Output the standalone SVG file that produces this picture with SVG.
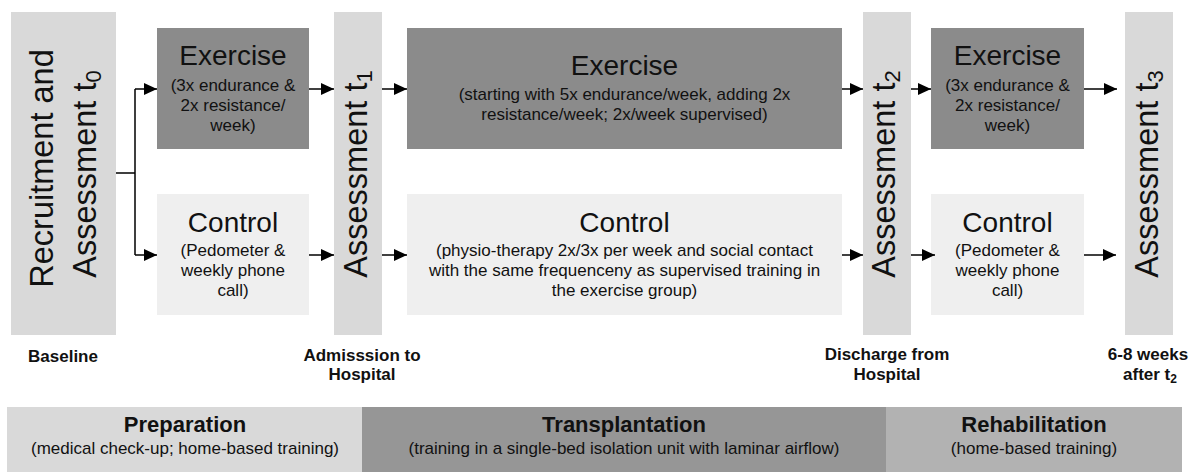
<svg xmlns="http://www.w3.org/2000/svg" width="1195" height="472" viewBox="0 0 1195 472">
<defs>
<style>
.bar{fill:#d9d9d9}
.ex{fill:#8b8b8b}
.ct{fill:#efefef}
text{font-family:'Liberation Sans',Arial,sans-serif;fill:#111}
.title{font-size:28px;text-anchor:middle}
.sub{font-size:17px;text-anchor:middle}
.rot{font-size:32.5px;text-anchor:middle}
.lbl{font-size:17px;font-weight:bold;text-anchor:middle}
.ph{font-size:22px;font-weight:bold;text-anchor:middle}
.phs{font-size:17px;text-anchor:middle}
.conn{stroke:#000;stroke-width:1.5;fill:none}
.arr{stroke:#000;stroke-width:1.5;fill:none;marker-end:url(#ah)}
</style>
<marker id="ah" markerUnits="userSpaceOnUse" markerWidth="14" markerHeight="12" refX="13" refY="6" orient="auto">
<path d="M0,0 L13,6 L0,12 z" fill="#000"/>
</marker>
</defs>
<rect width="1195" height="472" fill="#fff"/>

<g id="recruitment">
<rect class="bar" x="11" y="12" width="105" height="323"/>
<text class="rot" transform="translate(53,168.5) rotate(-90)">Recruitment and</text>
<text class="rot" transform="translate(96,174) rotate(-90)">Assessment t<tspan font-size="22" dy="5">0</tspan></text>
</g>

<g id="exercise1">
<rect class="ex" x="157" y="28" width="152" height="121"/>
<text class="title" x="233" y="65">Exercise</text>
<text class="sub" x="233" y="91">(3x endurance &amp;</text>
<text class="sub" x="233" y="111">2x resistance/</text>
<text class="sub" x="233" y="131">week)</text>
</g>

<g id="control1">
<rect class="ct" x="157" y="194" width="152" height="121"/>
<text class="title" x="233" y="232">Control</text>
<text class="sub" x="233" y="256">(Pedometer &amp;</text>
<text class="sub" x="233" y="276">weekly phone</text>
<text class="sub" x="233" y="296">call)</text>
</g>

<g id="assessment1">
<rect class="bar" x="334" y="12" width="48" height="323"/>
<text class="rot" transform="translate(367,174) rotate(-90)">Assessment t<tspan font-size="22" dy="5">1</tspan></text>
</g>

<g id="exercise2">
<rect class="ex" x="407" y="28" width="435" height="121"/>
<text class="title" x="624.5" y="75">Exercise</text>
<text class="sub" x="624.5" y="100">(starting with 5x endurance/week, adding 2x</text>
<text class="sub" x="624.5" y="120">resistance/week; 2x/week supervised)</text>
</g>

<g id="control2">
<rect class="ct" x="407" y="194" width="435" height="121"/>
<text class="title" x="624.5" y="232">Control</text>
<text class="sub" x="624.5" y="256">(physio-therapy 2x/3x per week and social contact</text>
<text class="sub" x="624.5" y="276">with the same frequenceny as supervised training in</text>
<text class="sub" x="624.5" y="296">the exercise group)</text>
</g>

<g id="assessment2">
<rect class="bar" x="863" y="12" width="48" height="323"/>
<text class="rot" transform="translate(895,174) rotate(-90)">Assessment t<tspan font-size="22" dy="5">2</tspan></text>
</g>

<g id="exercise3">
<rect class="ex" x="931" y="28" width="153" height="121"/>
<text class="title" x="1007.5" y="65">Exercise</text>
<text class="sub" x="1007.5" y="91">(3x endurance &amp;</text>
<text class="sub" x="1007.5" y="111">2x resistance/</text>
<text class="sub" x="1007.5" y="131">week)</text>
</g>

<g id="control3">
<rect class="ct" x="931" y="194" width="153" height="121"/>
<text class="title" x="1007.5" y="232">Control</text>
<text class="sub" x="1007.5" y="256">(Pedometer &amp;</text>
<text class="sub" x="1007.5" y="276">weekly phone</text>
<text class="sub" x="1007.5" y="296">call)</text>
</g>

<g id="assessment3">
<rect class="bar" x="1125" y="12" width="48" height="323"/>
<text class="rot" transform="translate(1158,174) rotate(-90)">Assessment t<tspan font-size="22" dy="5">3</tspan></text>
</g>

<g id="connectors">
<path class="conn" d="M116,173 H135 M135,89 V255"/>
<path class="arr" d="M135,89 H157"/>
<path class="arr" d="M135,255 H157"/>
<path class="arr" d="M309,89 H334"/>
<path class="arr" d="M382,89 H407"/>
<path class="arr" d="M842,89 H863"/>
<path class="arr" d="M911,89 H931"/>
<path class="arr" d="M1084,89 H1117"/>
<path class="arr" d="M309,255 H334"/>
<path class="arr" d="M382,255 H407"/>
<path class="arr" d="M842,255 H863"/>
<path class="arr" d="M911,255 H935"/>
<path class="arr" d="M1084,255 H1116"/>
</g>

<g id="timepoints">
<text class="lbl" x="63" y="362">Baseline</text>
<text class="lbl" x="362" y="361">Admisssion to</text>
<text class="lbl" x="362" y="380">Hospital</text>
<text class="lbl" x="887" y="360">Discharge from</text>
<text class="lbl" x="887" y="380">Hospital</text>
<text class="lbl" x="1148" y="360">6-8 weeks</text>
<text class="lbl" x="1150" y="380">after t<tspan font-size="12" dy="3">2</tspan></text>
</g>

<g id="phase-preparation">
<rect x="7" y="407" width="355" height="65" fill="#d9d9d9"/>
<text class="ph" x="185" y="432">Preparation</text>
<text class="phs" x="185" y="454">(medical check-up; home-based training)</text>
</g>
<g id="phase-transplantation">
<rect x="362" y="407" width="524" height="65" fill="#969696"/>
<text class="ph" x="624" y="432">Transplantation</text>
<text class="phs" x="624" y="454">(training in a single-bed isolation unit with laminar airflow)</text>
</g>
<g id="phase-rehabilitation">
<rect x="886" y="407" width="296" height="65" fill="#b2b2b2"/>
<text class="ph" x="1034" y="432">Rehabilitation</text>
<text class="phs" x="1034" y="454">(home-based training)</text>
</g>
</svg>
